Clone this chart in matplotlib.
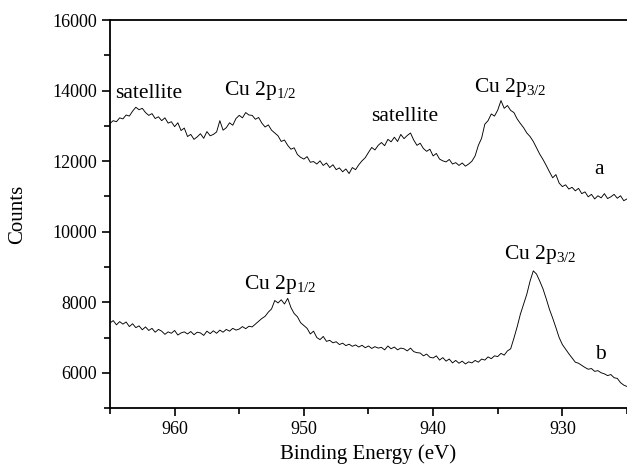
import matplotlib
matplotlib.use("Agg")
import matplotlib.pyplot as plt
import numpy as np
from matplotlib.ticker import MultipleLocator

plt.rcParams['font.family'] = ['Liberation Serif', 'DejaVu Serif']
plt.rcParams['mathtext.fontset'] = 'custom'
plt.rcParams['mathtext.rm'] = 'Liberation Serif'
plt.rcParams['mathtext.it'] = 'Liberation Serif:italic'

# binding energy grid, 965 -> 925 eV in 0.25 eV steps
energy = np.linspace(965, 925, 161)

# spectrum a (4 points per eV)
counts_a = [
    13070, 13150, 13120, 13230,
    13200, 13310, 13280, 13420,
    13530, 13460, 13500, 13380,
    13300, 13350, 13210, 13260,
    13150, 13230, 13080, 13120,
    12980, 13090, 12870, 12940,
    12700, 12760, 12620, 12690,
    12780, 12650, 12840, 12720,
    12760, 12830, 13150, 12880,
    12950, 13090, 13020, 13210,
    13300, 13230, 13380, 13310,
    13300, 13190, 13240, 13080,
    12970, 13030, 12880, 12800,
    12720, 12560, 12600, 12450,
    12340, 12380, 12190, 12110,
    12060, 12130, 11970, 11990,
    11920, 12010, 11880, 11950,
    11820, 11900, 11760, 11810,
    11700, 11780, 11650, 11820,
    11760, 11900, 12010, 12100,
    12250, 12390, 12320, 12450,
    12530, 12440, 12620, 12550,
    12680, 12560, 12760, 12640,
    12730, 12800, 12600, 12450,
    12510, 12360, 12280, 12340,
    12150, 12220, 12060, 12010,
    11980, 12050, 11920, 11960,
    11880, 11950, 11860, 11920,
    12000, 12150, 12450, 12650,
    13050, 13150, 13340, 13280,
    13450, 13720, 13500, 13580,
    13440, 13380, 13200, 13070,
    12950, 12800, 12700, 12560,
    12380, 12200, 12050, 11880,
    11700, 11530, 11620, 11380,
    11280, 11330, 11210, 11260,
    11160, 11230, 11080, 11130,
    10990, 11060, 10930, 11020,
    10960, 11080, 10940, 10990,
    11060, 10950, 11020, 10880,
    10930,
]

# spectrum b
counts_b = [
    7410, 7480, 7360, 7450,
    7380, 7440, 7310, 7390,
    7280, 7330, 7220, 7300,
    7200, 7260, 7150, 7230,
    7180, 7090, 7160, 7120,
    7200, 7070, 7130, 7160,
    7100, 7170, 7080, 7150,
    7130, 7060, 7180, 7110,
    7190, 7120, 7210, 7150,
    7230, 7180, 7260, 7210,
    7240, 7310, 7250, 7320,
    7300, 7380, 7460, 7540,
    7600, 7720, 7810, 8050,
    7980, 8070, 7950, 8110,
    7850, 7680, 7590, 7420,
    7340, 7260, 7100, 7180,
    7000, 6940, 7030, 6890,
    6920, 6850, 6880, 6800,
    6840, 6770, 6810, 6750,
    6790, 6730, 6780, 6710,
    6760, 6690, 6740, 6700,
    6720, 6650, 6760, 6680,
    6730, 6650, 6700, 6680,
    6620, 6700, 6600, 6570,
    6560, 6480, 6530, 6440,
    6420, 6480, 6360, 6430,
    6330, 6390, 6280, 6350,
    6270, 6330, 6250, 6310,
    6280, 6350, 6300, 6390,
    6360, 6450, 6400, 6480,
    6460, 6550, 6500, 6620,
    6680, 6980, 7300, 7660,
    7950, 8230, 8600, 8890,
    8800, 8600, 8380, 8100,
    7800, 7550, 7280, 7000,
    6800, 6670, 6540, 6420,
    6300, 6270, 6210, 6150,
    6100, 6120, 6040, 6060,
    6000, 5970, 5920, 5950,
    5860, 5840, 5720, 5650,
    5610,
]

# peak labels: (text, energy, counts)
labels = [
    ("satellite", 962.0, 13800),
    (r"Cu 2p$_{1/2}$", 956.15, 13890),
    ("satellite", 944.77, 13150),
    (r"Cu 2p$_{3/2}$", 936.85, 13950),
    ("a", 927.5, 11650),
    (r"Cu 2p$_{1/2}$", 954.6, 8380),
    (r"Cu 2p$_{3/2}$", 934.5, 9230),
    ("b", 927.5, 6380),
]

fig = plt.figure(figsize=(6.27, 4.69), dpi=100)
ax = fig.add_axes([0.1754, 0.130, 0.8246, 0.827])

ax.plot(energy, counts_a, color="black", lw=0.65)
ax.plot(energy, counts_b, color="black", lw=0.65)

for txt, xe, yc in labels:
    ha = "center" if txt == "satellite" and xe > 960 else "left"
    ax.text(xe, yc, txt, fontsize=15.5, ha=ha, va="baseline")

ax.set_xlim(965, 925)
ax.set_ylim(5000, 16000)
ax.xaxis.set_major_locator(MultipleLocator(10))
ax.xaxis.set_minor_locator(MultipleLocator(5))
ax.yaxis.set_major_locator(MultipleLocator(2000))
ax.yaxis.set_minor_locator(MultipleLocator(1000))
ax.tick_params(which="both", direction="out", width=1.2, labelsize=13)
ax.tick_params(which="major", length=6)
ax.tick_params(which="minor", length=4)
for s in ["left", "bottom", "top"]:
    ax.spines[s].set_linewidth(1.3)
ax.spines["right"].set_visible(False)
ax.tick_params(top=False, right=False)

ax.set_xlabel("Binding Energy (eV)", fontsize=15)
ax.set_ylabel("Counts", fontsize=15, labelpad=18)

fig.savefig("out.png", dpi=100)
